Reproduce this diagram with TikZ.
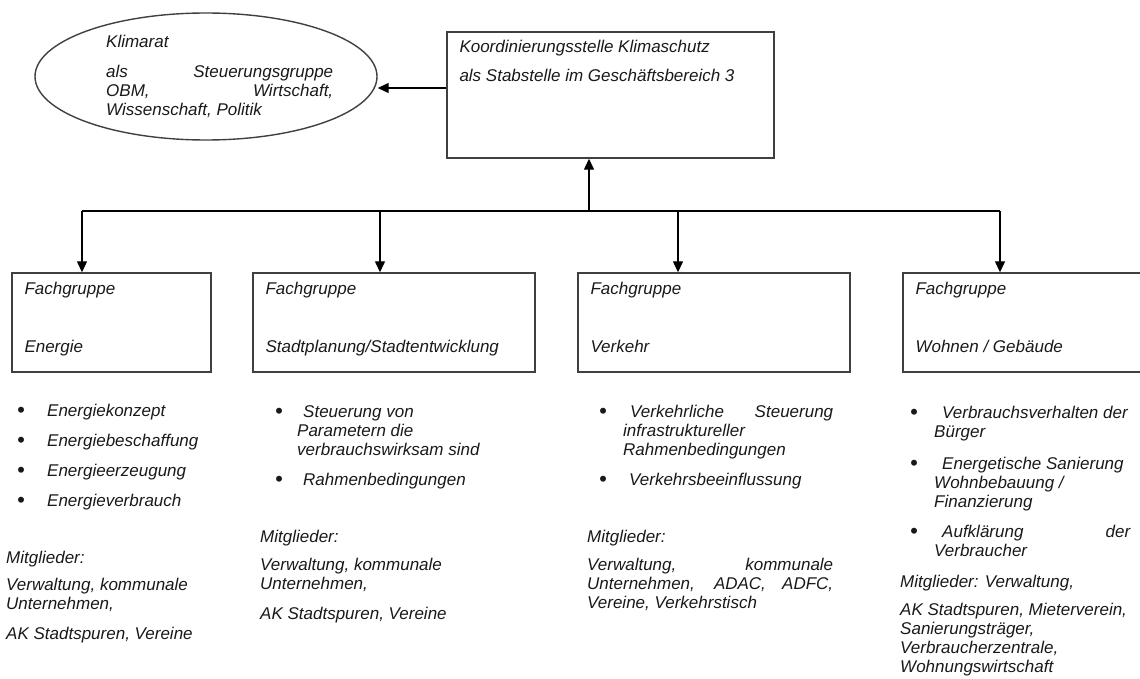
\documentclass[tikz,border=0pt]{standalone}
\usepackage{fontspec}
\setmainfont{Liberation Sans}
\usetikzlibrary{arrows.meta,shapes,calc,positioning}
\tikzstyle{arrow}=[draw,-{Triangle[length=11pt,width=10pt]},line width=1.3pt]
\tikzstyle{link}=[draw,line width=1.3pt]
\tikzstyle{block} =
  [rectangle, draw=black!75, line width=1.4pt, inner sep=0pt]
\tikzstyle{cloud} =
  [ellipse, draw=black!75, line width=1.4pt, inner sep=0pt]
\tikzstyle{txt} =
  [inner sep=0pt, anchor=base west, text=black!90,
   font=\itshape\fontsize{17}{19}\selectfont]
\newcommand{\bul}[1]{\makebox[#1][l]{\raisebox{-1.5pt}{\fontsize{22}{19}\selectfont•}}}

\begin{document}
\begin{tikzpicture}[x=1pt,y=-1pt]
  \clip (0,0) rectangle (1140,679);
  % top level
  \node [cloud, minimum width=342pt, minimum height=127pt] (klimarat) at (206,76.5) {};
  \node [block, minimum width=327pt, minimum height=126pt] (koord) at (610.5,95) {};
  \node [txt] (klimarattext) at (106,48) {\begin{tabular}[t]{@{}l@{}}Klimarat\\[11pt]
    \makebox[227pt][s]{als Steuerungsgruppe}\\ \makebox[227pt][s]{OBM, Wirtschaft,}\\
    Wissenschaft, Politik\end{tabular}};
  \node [txt] (koordtext) at ($(koord.north west)+(13,21)$) {\begin{tabular}[t]{@{}l@{}}%
    Koordinierungsstelle Klimaschutz\\[10pt] als Stabstelle im Geschäftsbereich 3\end{tabular}};

  % Fachgruppen
  \node [block, minimum width=199pt, minimum height=99pt] (energie) at (111.5,322.5) {};
  \node [block, minimum width=282pt, minimum height=99pt] (stadt) at (394,322.5) {};
  \node [block, minimum width=272pt, minimum height=99pt] (verkehr) at (714,322.5) {};
  \node [block, minimum width=257pt, minimum height=99pt] (wohnen) at (1031.5,322.5) {};
  \foreach \n/\t in {energie/{Energie},stadt/{Stadtplanung/Stadtentwicklung},
    verkehr/{Verkehr},wohnen/{Wohnen / Gebäude}}
    \node [txt] (\n text) at ($(\n.north west)+(13,22)$)
      {\begin{tabular}[t]{@{}l@{}}Fachgruppe\\[39pt] \t\end{tabular}};

  % Aufgaben
  \node [txt] (energielist) at (17,416) {\begin{tabular}[t]{@{}l@{}}%
    \bul{30pt}Energiekonzept\\[11pt] \bul{30pt}Energiebeschaffung\\[11pt]
    \bul{30pt}Energieerzeugung\\[11pt] \bul{30pt}Energieverbrauch\end{tabular}};
  \node [txt] (stadtlist) at (275,417) {\begin{tabular}[t]{@{}l@{}}%
    \bul{22pt}\hspace*{6pt}Steuerung von\\ \hspace*{22pt}Parametern die\\
    \hspace*{22pt}verbrauchswirksam sind\\[11pt]
    \bul{22pt}\hspace*{6pt}Rahmenbedingungen\end{tabular}};
  \node [txt] (verkehrlist) at (599,417) {\begin{tabular}[t]{@{}l@{}}%
    \bul{24pt}\hspace*{7pt}\makebox[203pt][s]{Verkehrliche Steuerung}\\
    \hspace*{24pt}infrastruktureller\\ \hspace*{24pt}Rahmenbedingungen\\[11pt]
    \bul{24pt}\hspace*{6pt}Verkehrsbeeinflussung\end{tabular}};
  \node [txt] (wohnenlist) at (910,418) {\begin{tabular}[t]{@{}l@{}}%
    \bul{24pt}\hspace*{8pt}Verbrauchsverhalten der\\ \hspace*{24pt}Bürger\\[13pt]
    \bul{24pt}\hspace*{8pt}Energetische Sanierung\\ \hspace*{24pt}Wohnbebauung /\\
    \hspace*{24pt}Finanzierung\\[11pt]
    \bul{24pt}\hspace*{8pt}\makebox[188pt][s]{Aufklärung der}\\
    \hspace*{24pt}Verbraucher\end{tabular}};

  % Mitglieder
  \node [txt] (energiemit) at (6,563) {\begin{tabular}[t]{@{}l@{}}%
    Mitglieder:\\[8pt] Verwaltung, kommunale\\ Unternehmen,\\[11pt]
    AK Stadtspuren, Vereine\end{tabular}};
  \node [txt] (stadtmit) at (260,542) {\begin{tabular}[t]{@{}l@{}}%
    Mitglieder:\\[9pt] Verwaltung, kommunale\\ Unternehmen,\\[11pt]
    AK Stadtspuren, Vereine\end{tabular}};
  \node [txt] (verkehrmit) at (587,542) {\begin{tabular}[t]{@{}l@{}}%
    Mitglieder:\\[9pt] \makebox[246pt][s]{Verwaltung, kommunale}\\
    \makebox[246pt][s]{Unternehmen, ADAC, ADFC,}\\ Vereine, Verkehrstisch\end{tabular}};
  \node [txt] (wohnenmit) at (900,587) {\begin{tabular}[t]{@{}l@{}}%
    Mitglieder: Verwaltung,\\[9pt] AK Stadtspuren, Mieterverein,\\
    Sanierungsträger,\\ Verbraucherzentrale,\\ Wohnungswirtschaft\end{tabular}};

  % connectors
  \coordinate (bus) at (589,211);
  \coordinate (b1) at (82,211);
  \coordinate (b2) at (380,211);
  \coordinate (b3) at (678,211);
  \coordinate (b4) at (1000,211);
  \coordinate (kw) at ([yshift=7pt]koord.west);
  \draw [link] (b1) -- (b4);
  \draw [arrow] (bus) -- (bus |- koord.south);
  \foreach \c/\n in {b1/energie,b2/stadt,b3/verkehr,b4/wohnen}
    \draw [arrow] (\c) -- (\c |- \n.north);
  \draw [arrow] (kw) -- (kw -| klimarat.east);
\end{tikzpicture}
\end{document}
